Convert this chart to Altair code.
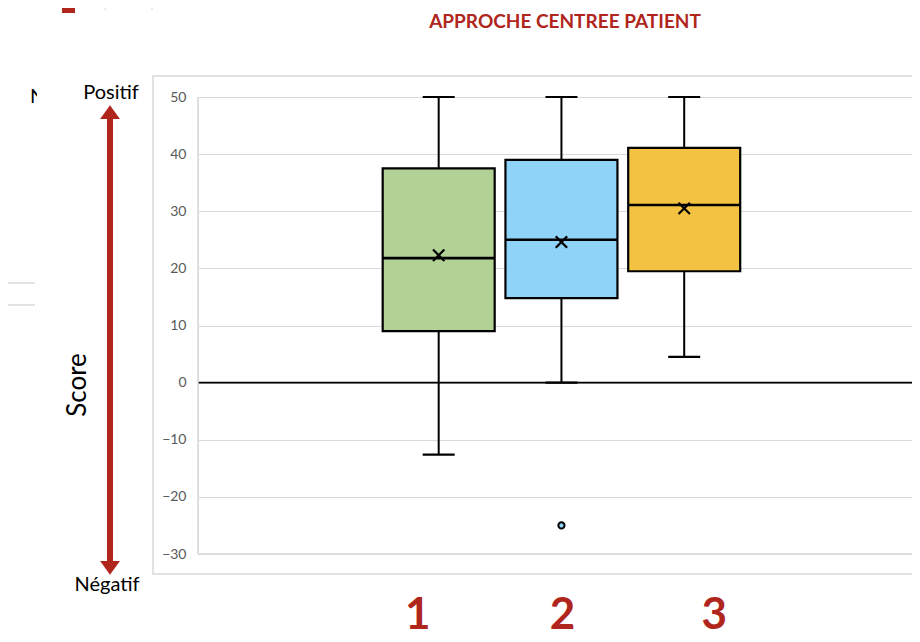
import altair as alt
import pandas as pd

# ---- data ----
groups = [1, 2, 3]
group_labels = ["1", "2", "3"]
whisker_low = [-12.6, 0.0, 4.5]
q1 = [9.0, 14.8, 19.5]
median = [21.8, 25.0, 31.1]
q3 = [37.5, 39.0, 41.1]
whisker_high = [50.0, 50.0, 50.0]
means = [22.3, 24.6, 30.5]
box_colors = ["#b2d195", "#8fd3f9", "#f4c242"]
outlier_group = [2]
outlier_value = [-25.0]
y_ticks = [-30, -20, -10, 0, 10, 20, 30, 40, 50]
title_text = "APPROCHE CENTREE PATIENT"

RED = "#b0261c"
FONT = "Lato"
W, H = 714, 457

df = pd.DataFrame({
    "group": groups,
    "low": whisker_low,
    "q1": q1,
    "median": median,
    "q3": q3,
    "high": whisker_high,
    "mean": means,
})
out_df = pd.DataFrame({"group": outlier_group, "value": outlier_value})
zero_df = pd.DataFrame({"y": [0]})

xs = alt.Scale(domain=[-0.92, 4.815], nice=False, zero=False)
ys = alt.Scale(domain=[-30, 50], nice=False, zero=False)
X = alt.X("group:Q", scale=xs, axis=None)
color = alt.Color("group:N", scale=alt.Scale(domain=groups, range=box_colors), legend=None)

base = alt.Chart(df)

yaxis = alt.Axis(values=y_ticks, title=None, domain=False, ticks=False,
                 labelFont=FONT, labelFontSize=14, labelColor="#595959",
                 labelPadding=12, gridColor="#d9d9d9", gridWidth=1.2)

whisk = base.mark_rule(color="black", strokeWidth=2).encode(
    x=X, y=alt.Y("low:Q", scale=ys, axis=yaxis), y2="high:Q")

boxes = base.mark_bar(size=112, stroke="black", strokeWidth=2.2).encode(
    x=X, y=alt.Y("q1:Q", scale=ys), y2="q3:Q", color=color)

med = base.mark_tick(orient="horizontal", size=112, thickness=2.6, color="black", opacity=1).encode(
    x=X, y=alt.Y("median:Q", scale=ys))

cap_hi = base.mark_tick(orient="horizontal", size=32, thickness=2.2, color="black", opacity=1).encode(
    x=X, y=alt.Y("high:Q", scale=ys))
cap_lo = base.mark_tick(orient="horizontal", size=32, thickness=2.2, color="black", opacity=1).encode(
    x=X, y=alt.Y("low:Q", scale=ys))

mean_pts = base.mark_point(shape="M-1,-1L1,1M1,-1L-1,1", size=130, filled=False,
                           stroke="black", strokeWidth=2.2, opacity=1).encode(
    x=X, y=alt.Y("mean:Q", scale=ys))

outl = alt.Chart(out_df).mark_point(shape="circle", size=38, filled=True,
                                     fill="#8fd3f9", stroke="black", strokeWidth=2,
                                     opacity=1).encode(
    x=X, y=alt.Y("value:Q", scale=ys))

zero = alt.Chart(zero_df).mark_rule(color="black", strokeWidth=1.8).encode(
    y=alt.Y("y:Q", scale=ys))

# ---- decorations (frame, labels, arrow) ----
one = pd.DataFrame({"a": [0]})

frame = alt.Chart(one).mark_rect(fill=None, stroke="#d9d9d9", strokeWidth=1.5).encode(
    x=alt.value(-45), x2=alt.value(730), y=alt.value(-21), y2=alt.value(477))
left_line = alt.Chart(one).mark_rule(color="#d9d9d9", strokeWidth=1.5).encode(
    x=alt.value(0), y=alt.value(0), y2=alt.value(H))
bottom_line = alt.Chart(one).mark_rule(color="#d9d9d9", strokeWidth=1.5).encode(
    x=alt.value(0), x2=alt.value(W), y=alt.value(H))

title = alt.Chart(one).mark_text(text=title_text, font=FONT, fontSize=19, fontWeight="bold",
                                 color=RED, align="center", baseline="middle").encode(
    x=alt.value(367), y=alt.value(-75))

lbl_offsets = [-21, 1, 30]
num_labels = []
for g, t, dx in zip(groups, group_labels, lbl_offsets):
    num_labels.append(
        alt.Chart(pd.DataFrame({"group": [g]})).mark_text(
            text=t, font=FONT, fontSize=44, fontWeight="bold", color=RED,
            align="center", baseline="alphabetic", dx=dx).encode(
            x=X, y=alt.value(532)))

positif = alt.Chart(one).mark_text(text="Positif", font=FONT, fontSize=20, color="black",
                                   align="center", baseline="middle").encode(
    x=alt.value(-87), y=alt.value(-4))
negatif = alt.Chart(one).mark_text(text="Négatif", font=FONT, fontSize=20, color="black",
                                   align="center", baseline="middle").encode(
    x=alt.value(-91), y=alt.value(488))
score = alt.Chart(one).mark_text(text="Score", font=FONT, fontSize=26, color="black",
                                 align="center", baseline="middle", angle=270).encode(
    x=alt.value(-120), y=alt.value(288))

shaft = alt.Chart(one).mark_rule(color=RED, strokeWidth=6).encode(
    x=alt.value(-88), y=alt.value(18), y2=alt.value(468))
head_up = alt.Chart(one).mark_point(shape="M-1,0.7L0,-0.7L1,0.7Z", size=256, filled=True,
                                    fill=RED, stroke=RED, opacity=1).encode(
    x=alt.value(-88), y=alt.value(15.5))
head_dn = alt.Chart(one).mark_point(shape="M-1,-0.7L0,0.7L1,-0.7Z", size=256, filled=True,
                                    fill=RED, stroke=RED, opacity=1).encode(
    x=alt.value(-88), y=alt.value(470.5))

# slide artefacts
red_block = alt.Chart(one).mark_rect(fill=RED).encode(
    x=alt.value(-136), x2=alt.value(-123), y=alt.value(-105), y2=alt.value(-84))
vline1 = alt.Chart(one).mark_rule(color="#d9d9d9", strokeWidth=1).encode(
    x=alt.value(-93), y=alt.value(-105), y2=alt.value(-87))
vline2 = alt.Chart(one).mark_rule(color="#d9d9d9", strokeWidth=1).encode(
    x=alt.value(-46), y=alt.value(-105), y2=alt.value(-87))
hline1 = alt.Chart(one).mark_rule(color="#e3e3e3", strokeWidth=2).encode(
    x=alt.value(-206), x2=alt.value(-163), y=alt.value(186))
hline2 = alt.Chart(one).mark_rule(color="#e3e3e3", strokeWidth=2).encode(
    x=alt.value(-206), x2=alt.value(-163), y=alt.value(208))
n_text = alt.Chart(one).mark_text(text="N", font=FONT, fontSize=20, color="black",
                                  align="left", baseline="middle").encode(
    x=alt.value(-168), y=alt.value(0))
n_mask = alt.Chart(one).mark_rect(fill="white").encode(
    x=alt.value(-161), x2=alt.value(-125), y=alt.value(-14), y2=alt.value(14))

chart = alt.layer(
    frame, whisk, zero, boxes, med, cap_hi, cap_lo, mean_pts, outl,
    left_line, bottom_line, title, *num_labels, n_text, n_mask, positif, negatif, score,
    shaft, head_up, head_dn, red_block, vline1, vline2, hline1, hline2,
).properties(
    width=W, height=H,
    autosize=alt.AutoSizeParams(type="none"),
    padding={"left": 190, "top": 89, "right": 0, "bottom": 86},
).configure_view(stroke=None).configure(background="white")

chart.save("out.html", embed_options={"renderer": "svg", "actions": False})
